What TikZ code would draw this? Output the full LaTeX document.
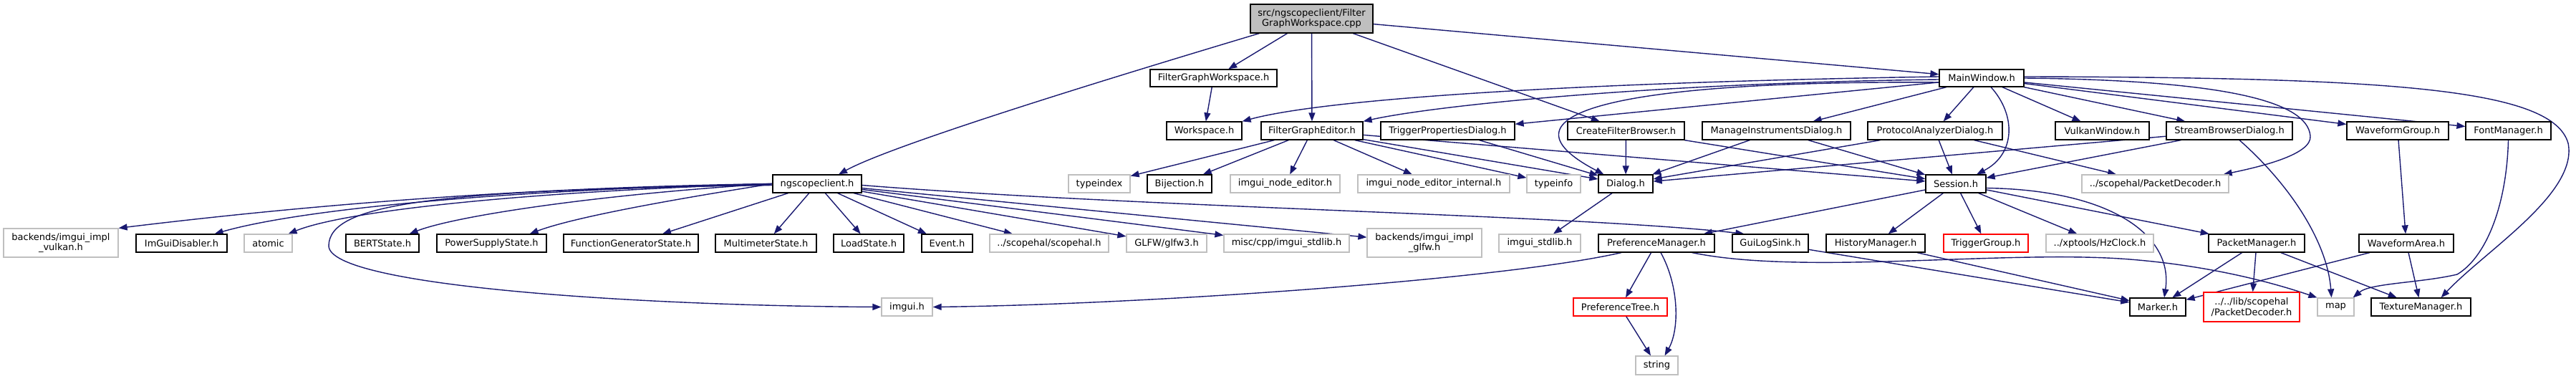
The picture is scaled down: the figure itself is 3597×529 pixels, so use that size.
\documentclass[tikz,border=0pt]{standalone}
\usepackage{fontspec}
\setmainfont{DejaVu Sans}
\usetikzlibrary{arrows.meta}
\definecolor{navy}{HTML}{191970}
\definecolor{grb}{HTML}{BFBFBF}
\pgfdeclarelayer{bg}
\pgfsetlayers{bg,main}
\newcommand\NB[7]{\node[#6,minimum width={(#3-#2)*0.5pt},minimum height={(#5-#4)*0.5pt}] (#1) at ({(#2+#3)/2},{(#4+#5)/2}) {#7};}
\tikzset{
  base/.style={draw, rectangle, inner sep=0pt, font=\fontsize{6.5}{7.3}\selectfont, align=center, line width=0.6pt, fill=white},
  bk/.style={base, draw=black},
  gy/.style={base, draw=grb},
  rd/.style={base, draw=red},
  rt/.style={base, draw=black, fill=grb},
  edg/.style={draw=navy, line width=0.7pt, -{Triangle[length=6pt,width=4.5pt]}}
}
\begin{document}
\begin{tikzpicture}[x=0.5pt,y=-0.5pt]
\path[use as bounding box] (0,0) rectangle (3597,529);
% row 0
\NB{root}{1746}{1917}{6}{46}{rt}{src/ngscopeclient/Filter\\GraphWorkspace.cpp}
% row 1
\NB{fgw}{1606}{1783}{97}{121}{bk}{FilterGraphWorkspace.h}
\NB{mw}{2708}{2826}{97}{121}{bk}{MainWindow.h}
% row 2
\NB{ws}{1629}{1734}{170}{195}{bk}{Workspace.h}
\NB{fge}{1761}{1903}{170}{195}{bk}{FilterGraphEditor.h}
\NB{tpd}{1928}{2115}{170}{195}{bk}{TriggerPropertiesDialog.h}
\NB{cfb}{2189}{2352}{170}{195}{bk}{CreateFilterBrowser.h}
\NB{mid}{2377}{2584}{170}{195}{bk}{ManageInstrumentsDialog.h}
\NB{pad}{2608}{2796}{170}{195}{bk}{ProtocolAnalyzerDialog.h}
\NB{vw}{2870}{3001}{170}{195}{bk}{VulkanWindow.h}
\NB{sbd}{3025}{3201}{170}{195}{bk}{StreamBrowserDialog.h}
\NB{wg}{3277}{3419}{170}{195}{bk}{WaveformGroup.h}
\NB{fm}{3443}{3562}{170}{195}{bk}{FontManager.h}
% row 3
\NB{ngs}{1079}{1203}{244}{269}{bk}{ngscopeclient.h}
\NB{tidx}{1492}{1578}{244}{269}{gy}{typeindex}
\NB{bij}{1602}{1692}{244}{269}{bk}{Bijection.h}
\NB{ine}{1718}{1871}{244}{269}{gy}{imgui\_node\_editor.h}
\NB{inei}{1896}{2108}{244}{269}{gy}{imgui\_node\_editor\_internal.h}
\NB{tinfo}{2132}{2207}{244}{269}{gy}{typeinfo}
\NB{dlg}{2232}{2308}{244}{269}{bk}{Dialog.h}
\NB{ses}{2689}{2773}{244}{269}{bk}{Session.h}
\NB{spd}{2907}{3112}{244}{269}{gy}{../scopehal/PacketDecoder.h}
% row 4
\NB{vulk}{5}{165}{319}{359}{gy}{backends/imgui\_impl\\\_vulkan.h}
\NB{igd}{190}{317}{327}{352}{bk}{ImGuiDisabler.h}
\NB{atom}{341}{408}{327}{352}{gy}{atomic}
\NB{bert}{483}{585}{327}{352}{bk}{BERTState.h}
\NB{pss}{610}{763}{327}{352}{bk}{PowerSupplyState.h}
\NB{fgs}{787}{975}{327}{352}{bk}{FunctionGeneratorState.h}
\NB{mms}{999}{1140}{327}{352}{bk}{MultimeterState.h}
\NB{lds}{1164}{1262}{327}{352}{bk}{LoadState.h}
\NB{evt}{1287}{1358}{327}{352}{bk}{Event.h}
\NB{shal}{1382}{1548}{327}{352}{gy}{../scopehal/scopehal.h}
\NB{glfw}{1573}{1685}{327}{352}{gy}{GLFW/glfw3.h}
\NB{mist}{1709}{1884}{327}{352}{gy}{misc/cpp/imgui\_stdlib.h}
\NB{iglfw}{1909}{2069}{319}{359}{gy}{backends/imgui\_impl\\\_glfw.h}
\NB{istd}{2093}{2207}{327}{352}{gy}{imgui\_stdlib.h}
\NB{pm}{2232}{2394}{327}{352}{bk}{PreferenceManager.h}
\NB{gls}{2419}{2525}{327}{352}{bk}{GuiLogSink.h}
\NB{hm}{2550}{2688}{327}{352}{bk}{HistoryManager.h}
\NB{tg}{2714}{2832}{327}{352}{rd}{TriggerGroup.h}
\NB{hz}{2857}{3007}{327}{352}{gy}{../xptools/HzClock.h}
\NB{pktm}{3084}{3218}{327}{352}{bk}{PacketManager.h}
\NB{wa}{3294}{3426}{327}{352}{bk}{WaveformArea.h}
% row 5
\NB{imgui}{1231}{1302}{416}{441}{gy}{imgui.h}
\NB{ptree}{2197}{2328}{416}{441}{rd}{PreferenceTree.h}
\NB{mk}{2974}{3052}{416}{441}{bk}{Marker.h}
\NB{lpd}{3077}{3211}{408}{449}{rd}{../../lib/scopehal\\/PacketDecoder.h}
\NB{map}{3236}{3287}{416}{441}{gy}{map}
\NB{tm}{3311}{3450}{416}{441}{bk}{TextureManager.h}
% row 6
\NB{str}{2284}{2343}{497}{523}{gy}{string}

\begin{pgfonlayer}{bg}
% ---- edges from root
\draw[edg] ([xshift=6.5pt]root.south west) .. controls (1580,100) and (1250,200) .. ([xshift=15pt]ngs.north);
\draw[edg] (root) -- (fgw);
\draw[edg] (root) -- (fge);
\draw[edg] (root) -- (cfb);
\draw[edg] (root) -- (mw);
\draw[edg] (fgw) -- (ws);
% ---- MainWindow
\draw[edg] ([yshift=1pt]mw.west) .. controls (2200,115) and (1850,138) .. (ws.north east);
\draw[edg] ([yshift=-1pt]mw.west) .. controls (2300,116) and (2000,148) .. (fge.north east);
\draw[edg] (mw) -- (tpd);
\draw[edg] ([yshift=-3pt]mw.west) .. controls (2250,112) and (2080,160) .. ([xshift=4pt]dlg.north west);
\draw[edg] (mw) -- (mid);
\draw[edg] (mw) -- (pad);
\draw[edg] ([xshift=6.5pt]mw.south) .. controls (2815,160) and (2815,215) .. ([xshift=14.5pt]ses.north);
\draw[edg] (mw) -- (vw);
\draw[edg] (mw) -- (sbd);
\draw[edg] (mw) -- (wg);
\draw[edg] (mw) -- (fm);
\draw[edg] (mw.east) .. controls (3100,112) and (3222,140) .. (3226,190) .. controls (3228,215) and (3160,232) .. ([xshift=-4pt]spd.north east);
\draw[edg] ([yshift=1pt]mw.east) .. controls (3350,108) and (3565,125) .. (3586,200) .. controls (3600,270) and (3470,350) .. ([xshift=-21pt]tm.north east);
% ---- FilterGraphEditor
\draw[edg] (fge) -- (tidx);
\draw[edg] (fge) -- (bij);
\draw[edg] (fge) -- (ine);
\draw[edg] (fge) -- (inei);
\draw[edg] (fge) -- (tinfo);
\draw[edg] (fge) -- (dlg);
\draw[edg] (fge) -- (ses);
% ---- dialogs
\draw[edg] (tpd) -- (dlg);
\draw[edg] (cfb) -- (dlg);
\draw[edg] (cfb) -- (ses);
\draw[edg] (mid) -- (dlg);
\draw[edg] (mid) -- (ses);
\draw[edg] (pad) -- (dlg);
\draw[edg] (pad) -- (ses);
\draw[edg] (pad) -- (spd);
\draw[edg] (sbd) -- (dlg);
\draw[edg] (sbd) -- (ses);
\draw[edg] ([xshift=7pt]sbd.south) .. controls (3200,260) and (3250,340) .. ([xshift=-3pt]map.north);
\draw[edg] (wg) -- (wa);
\draw[edg] (fm.south) .. controls (3500,290) and (3470,360) .. (3431,383) .. controls (3380,395) and (3310,395) .. ([xshift=-1pt]map.north east);
\draw[edg] (dlg) -- (istd);
% ---- ngscopeclient
\draw[edg] (ngs.west) .. controls (700,262) and (400,290) .. (vulk.north east);
\draw[edg] (ngs.west) .. controls (700,265) and (420,292) .. ([xshift=-9pt]igd.north east);
\draw[edg] (ngs.west) .. controls (720,268) and (480,295) .. ([xshift=-3pt]atom.north east);
\draw[edg] (ngs.west) .. controls (850,270) and (640,300) .. ([xshift=-7pt]bert.north east);
\draw[edg] (ngs.west) .. controls (980,272) and (810,300) .. ([xshift=-12pt]pss.north east);
\draw[edg] (ngs) -- ([xshift=22pt]fgs.north);
\draw[edg] (ngs) -- (mms);
\draw[edg] (ngs) -- (lds);
\draw[edg] (ngs) -- (evt);
\draw[edg] (ngs) -- (shal);
\draw[edg] (ngs) -- (glfw);
\draw[edg] (ngs) -- (mist);
\draw[edg] (ngs) -- (iglfw);
\draw[edg] ([yshift=-1pt]ngs.east) .. controls (1600,290) and (2200,300) .. ([xshift=8.5pt]gls.north west);
\draw[edg] ([yshift=-1pt]ngs.west) .. controls (600,265) and (460,285) .. (459,343) .. controls (459,400) and (900,427) .. (imgui.west);
% ---- Session
\draw[edg] (ses) -- (pm);
\draw[edg] (ses) -- (hm);
\draw[edg] (ses) -- (tg);
\draw[edg] (ses) -- (hz);
\draw[edg] (ses) -- (pktm);
\draw[edg] ([yshift=-3pt]ses.east) .. controls (2950,265) and (3035,330) .. ([xshift=4.5pt]mk.north);
% ---- PreferenceManager
\draw[edg] ([xshift=-24.5pt]pm.south) .. controls (2100,390) and (1600,425) .. (imgui.east);
\draw[edg] (pm) -- (ptree);
\draw[edg] ([xshift=3pt]pm.south) .. controls (2345,400) and (2345,460) .. ([xshift=5.5pt]str.north);
\draw[edg] ([xshift=-16pt]pm.south east) .. controls (2520,385) and (2800,348) .. (2974,362) .. controls (3100,372) and (3190,400) .. (map.north west);
\draw[edg] (ptree) -- (str);
% ---- lower right
\draw[edg] (gls) -- (mk);
\draw[edg] (hm) -- (mk);
\draw[edg] (pktm) -- (mk);
\draw[edg] (pktm) -- (lpd);
\draw[edg] (pktm) -- (tm);
\draw[edg] (wa) -- (mk);
\draw[edg] (wa) -- (tm);
\end{pgfonlayer}
\end{tikzpicture}
\end{document}
